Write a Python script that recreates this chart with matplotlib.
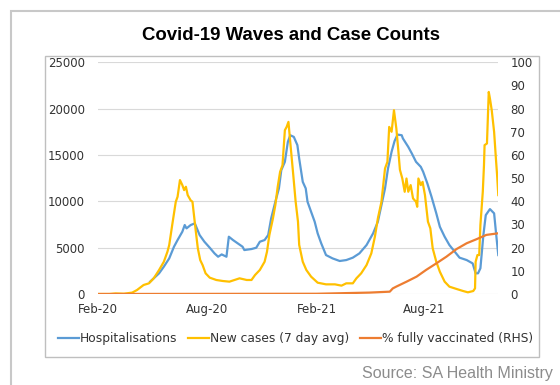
import matplotlib.pyplot as plt
import matplotlib.dates as mdates
import pandas as pd
from matplotlib.patches import Rectangle

# New cases (7 day avg)
case_dates = [
    "2020-02-01", "2020-02-20", "2020-03-01", "2020-03-15", "2020-03-29", "2020-04-06",
    "2020-04-17", "2020-04-26", "2020-05-04", "2020-05-13", "2020-05-21", "2020-05-27",
    "2020-05-30", "2020-06-04", "2020-06-10", "2020-06-13", "2020-06-17", "2020-06-21",
    "2020-06-24", "2020-06-27", "2020-06-30", "2020-07-05", "2020-07-08", "2020-07-13",
    "2020-07-17", "2020-07-21", "2020-07-25", "2020-07-30", "2020-08-06", "2020-08-17",
    "2020-08-28", "2020-09-08", "2020-09-25", "2020-10-07", "2020-10-15", "2020-10-21",
    "2020-10-29", "2020-11-06", "2020-11-10", "2020-11-14", "2020-11-20", "2020-11-24",
    "2020-11-28", "2020-12-02", "2020-12-06", "2020-12-10", "2020-12-13", "2020-12-16",
    "2020-12-19", "2020-12-24", "2020-12-28", "2021-01-01", "2021-01-03", "2021-01-09",
    "2021-01-15", "2021-01-23", "2021-02-03", "2021-02-17", "2021-03-04", "2021-03-15",
    "2021-03-23", "2021-04-03", "2021-04-09", "2021-04-17", "2021-04-26", "2021-05-04",
    "2021-05-10", "2021-05-15", "2021-05-21", "2021-05-27", "2021-05-31", "2021-06-03",
    "2021-06-07", "2021-06-11", "2021-06-15", "2021-06-18", "2021-06-21", "2021-06-25",
    "2021-06-29", "2021-07-02", "2021-07-05", "2021-07-09", "2021-07-13", "2021-07-18",
    "2021-07-20", "2021-07-22", "2021-07-26", "2021-07-29", "2021-08-02", "2021-08-07",
    "2021-08-11", "2021-08-15", "2021-08-21", "2021-08-27", "2021-09-04", "2021-09-12",
    "2021-09-24", "2021-10-05", "2021-10-13", "2021-10-22", "2021-10-25", "2021-10-26",
    "2021-10-29", "2021-11-01", "2021-11-03", "2021-11-07", "2021-11-09", "2021-11-10",
    "2021-11-14", "2021-11-17", "2021-11-19", "2021-11-22", "2021-11-26", "2021-11-29",
    "2021-12-01", "2021-12-03",
]
case_values = [
    0, 0, 60, 30, 150, 430,
    970, 1150, 1690, 2590, 3480, 4560,
    5280, 7440, 9950, 10490, 12290, 11750,
    11210, 11570, 10670, 10100, 9950, 7080,
    4920, 3660, 3120, 2230, 1760, 1510,
    1400, 1330, 1690, 1510, 1510, 2050,
    2590, 3480, 4560, 6360, 8160, 9590,
    11570, 13180, 13900, 17670, 18030, 18570,
    16410, 12900, 10000, 7800, 5300, 3480,
    2590, 1870, 1220, 1040, 1040, 900,
    1150, 1150, 1690, 2230, 3120, 4380,
    6180, 8160, 9950, 13540, 14260, 18030,
    17500, 19830, 17850, 15700, 13400, 12460,
    11030, 12460, 11030, 11750, 10310, 9950,
    9410, 12460, 11750, 12100, 10670, 7800,
    7080, 4920, 3480, 2400, 1330, 790,
    540, 320, 180, 320, 610, 3480,
    4200, 4200, 7440, 11030, 13900, 16060,
    16240, 21800, 21090, 19830, 17490, 14620,
    12820, 10670,
]

# Hospitalisations
hosp_dates = [
    "2020-04-28", "2020-05-04", "2020-05-13", "2020-05-21", "2020-05-30", "2020-06-07",
    "2020-06-13", "2020-06-21", "2020-06-25", "2020-06-28", "2020-07-05", "2020-07-12",
    "2020-07-14", "2020-07-20", "2020-07-28", "2020-08-06", "2020-08-14", "2020-08-20",
    "2020-08-26", "2020-09-03", "2020-09-07", "2020-09-14", "2020-09-22", "2020-09-30",
    "2020-10-03", "2020-10-15", "2020-10-23", "2020-10-29", "2020-11-06", "2020-11-12",
    "2020-11-17", "2020-11-24", "2020-11-30", "2020-12-04", "2020-12-10", "2020-12-15",
    "2020-12-19", "2020-12-25", "2020-12-31", "2021-01-03", "2021-01-09", "2021-01-14",
    "2021-01-17", "2021-01-23", "2021-01-29", "2021-02-03", "2021-02-09", "2021-02-17",
    "2021-02-28", "2021-03-12", "2021-03-23", "2021-04-03", "2021-04-14", "2021-04-26",
    "2021-05-07", "2021-05-15", "2021-05-21", "2021-05-27", "2021-06-01", "2021-06-07",
    "2021-06-12", "2021-06-17", "2021-06-24", "2021-06-26", "2021-07-05", "2021-07-11",
    "2021-07-18", "2021-07-26", "2021-07-30", "2021-08-06", "2021-08-13", "2021-08-21",
    "2021-08-27", "2021-09-04", "2021-09-12", "2021-09-21", "2021-09-29", "2021-10-11",
    "2021-10-21", "2021-10-26", "2021-10-30", "2021-11-03", "2021-11-08", "2021-11-12",
    "2021-11-19", "2021-11-26", "2021-11-29", "2021-12-03",
]
hosp_values = [
    1330, 1690, 2230, 2950, 3840, 5100,
    5820, 6720, 7440, 7080, 7440, 7620,
    7300, 6360, 5640, 4990, 4380, 4020,
    4270, 4020, 6180, 5820, 5460, 5100,
    4740, 4850, 4990, 5640, 5820, 6360,
    8160, 9950, 11390, 13360, 14260, 16410,
    17130, 16950, 16060, 14620, 12100, 11390,
    9950, 8870, 7800, 6540, 5460, 4200,
    3840, 3560, 3660, 3920, 4380, 5280,
    6540, 7800, 9590, 11390, 13540, 15340,
    16500, 17200, 17130, 16780, 15870, 15160,
    14260, 13720, 13180, 11930, 10490, 8700,
    7250, 6180, 5280, 4560, 3920, 3660,
    3300, 2230, 2230, 2770, 6360, 8510,
    9160, 8700, 6720, 4200,
]

# % fully vaccinated (RHS)
vacc_dates = [
    "2020-02-01", "2021-02-01", "2021-05-01", "2021-06-04", "2021-06-09", "2021-06-15",
    "2021-07-02", "2021-07-19", "2021-08-04", "2021-08-21", "2021-09-07", "2021-09-24",
    "2021-10-11", "2021-10-28", "2021-11-13", "2021-12-03",
]
vacc_values = [
    0, 0.1, 0.6, 1.0, 2.4, 3.2,
    5.3, 7.5, 10.4, 13.2, 16.1, 19.4,
    21.9, 23.7, 25.5, 26.2,
]

tick_dates = ["2020-02-01", "2020-08-01", "2021-02-01", "2021-08-01"]

fig = plt.figure(figsize=(5.6, 3.85), dpi=100)

# outer and inner frames
fig.patches.append(Rectangle((0.019, -0.1), 1.2, 1.072, transform=fig.transFigure,
                             fill=False, edgecolor="#c8c8c8", linewidth=1.5))
fig.patches.append(Rectangle((0.0804, 0.0727), 0.882, 0.783, transform=fig.transFigure,
                             fill=False, edgecolor="#bfbfbf", linewidth=1))

ax = fig.add_axes([0.1755, 0.2364, 0.7143, 0.6018])
ax2 = ax.twinx()

l1, = ax.plot(pd.to_datetime(hosp_dates), hosp_values, color="#5B9BD5", lw=1.6,
              label="Hospitalisations")
l2, = ax.plot(pd.to_datetime(case_dates), case_values, color="#FFC000", lw=1.6,
              label="New cases (7 day avg)")
l3, = ax2.plot(pd.to_datetime(vacc_dates), vacc_values, color="#ED7D31", lw=1.6,
               label="% fully vaccinated (RHS)")

ax.set_ylim(0, 25000)
ax.set_yticks(range(0, 25001, 5000))
ax2.set_ylim(0, 100)
ax2.set_yticks(range(0, 101, 10))
ax.set_xlim(pd.Timestamp("2020-02-01"), pd.Timestamp("2021-12-03"))
ax.set_xticks(pd.to_datetime(tick_dates))
ax.xaxis.set_major_formatter(mdates.DateFormatter("%b-%y"))

ax.grid(axis="y", color="#d9d9d9", lw=0.8)
ax.set_axisbelow(True)
for a in (ax, ax2):
    for s in a.spines.values():
        s.set_visible(False)
ax.tick_params(axis="x", length=0, pad=6.5, labelsize=8.5, labelcolor="#333333")
ax.tick_params(axis="y", length=0, pad=9.5, labelsize=8.5, labelcolor="#333333")
ax2.tick_params(axis="y", length=0, pad=8.6, labelsize=8.5, labelcolor="#333333")

fig.legend(handles=[l1, l2, l3], loc="center", bbox_to_anchor=(0.528, 0.12), ncol=3,
           frameon=False, fontsize=8.8, handlelength=1.7, handletextpad=0.1,
           columnspacing=0.9, labelcolor="#333333")

fig.text(0.52, 0.909, "Covid-19 Waves and Case Counts", ha="center", va="center",
         fontsize=13.4, fontweight="bold", family="Liberation Sans")
fig.text(0.988, 0.03, "Source: SA Health Ministry", ha="right", va="center",
         fontsize=11.5, color="#8c8c8c", family="Liberation Sans")

fig.savefig("out.png", dpi=100)
